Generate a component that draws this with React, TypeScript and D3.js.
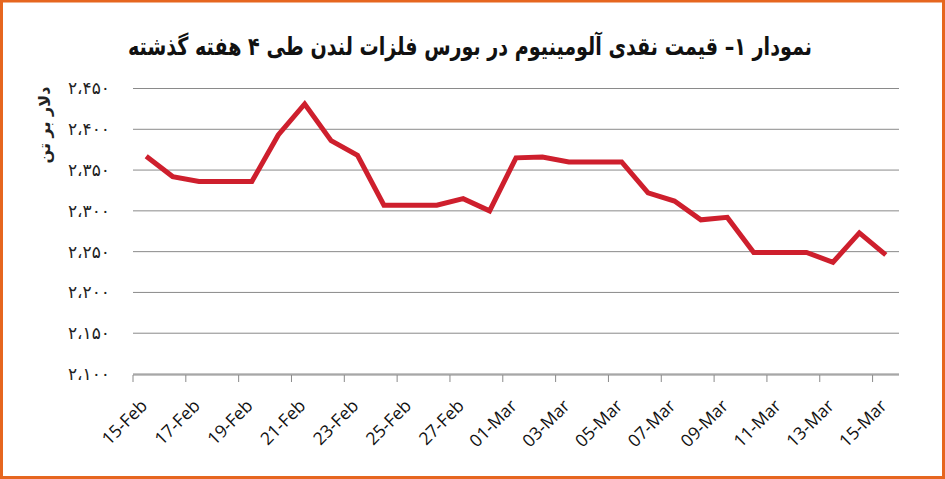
import React from "react";
import * as d3 from "d3";

// LME aluminium cash price, Feb 15 - Mar 15 (USD / tonne)
const days: string[] = [
  "15-Feb", "16-Feb", "17-Feb", "18-Feb", "19-Feb", "20-Feb", "21-Feb",
  "22-Feb", "23-Feb", "24-Feb", "25-Feb", "26-Feb", "27-Feb", "28-Feb",
  "01-Mar", "02-Mar", "03-Mar", "04-Mar", "05-Mar", "06-Mar", "07-Mar",
  "08-Mar", "09-Mar", "10-Mar", "11-Mar", "12-Mar", "13-Mar", "14-Mar",
  "15-Mar",
];

const prices: number[] = [
  2367, 2342, 2336, 2336, 2336, 2393, 2431, 2386, 2368, 2307,
  2307, 2307, 2315, 2300, 2365, 2366, 2360, 2360, 2360, 2322,
  2312, 2289, 2292, 2249, 2249, 2249, 2237, 2273, 2246,
];

const yTicks: number[] = [2100, 2150, 2200, 2250, 2300, 2350, 2400, 2450];

const title = "نمودار ۱– قیمت نقدی آلومینیوم در بورس فلزات لندن طی ۴ هفته گذشته";
const yTitle = "دلار بر تن";

const W = 945;
const H = 479;
const margin = { top: 88.5, right: 46, bottom: 105, left: 133 };

const persianDigits = "۰۱۲۳۴۵۶۷۸۹";
const toPersian = (v: number) =>
  d3
    .format(",")(v)
    .replace(/\d/g, (c) => persianDigits[+c])
    .replace(/,/g, "،");

export default function App() {
  const x = d3
    .scaleBand<string>()
    .domain(days)
    .range([margin.left, W - margin.right])
    .padding(0);

  const y = d3
    .scaleLinear()
    .domain([2100, 2450])
    .range([H - margin.bottom, margin.top]);

  const line = d3
    .line<number>()
    .x((_, i) => x(days[i])! + x.bandwidth() / 2)
    .y((d) => y(d));

  const x0 = margin.left;
  const x1 = W - margin.right;
  const base = y(2100);

  return (
    <>
      <style>{"body{margin:0}"}</style>
      <svg width={W} height={H} style={{ display: "block", background: "#fff" }}>
        <rect x={1.5} y={1} width={W - 3} height={H - 2.5} fill="#fff" stroke="#E6661F" strokeWidth={3} />

        <text
          x={470}
          y={55}
          textAnchor="middle"
          direction="rtl"
          fontFamily="DejaVu Sans"
          fontWeight="bold"
          fontSize={25}
          textLength={684}
          lengthAdjust="spacingAndGlyphs"
          fill="#111"
        >
          {title}
        </text>

        {/* gridlines */}
        {yTicks.map((t) => (
          <g key={t}>
            <line x1={x0} x2={x1} y1={y(t)} y2={y(t)} stroke="#8a8a8a" strokeWidth={1} />
            <text
              x={110}
              y={y(t)}
              dy="0.35em"
              textAnchor="end"
              direction="ltr"
              fontFamily="DejaVu Sans"
              fontSize={17}
              fill="#222"
            >
              {toPersian(t)}
            </text>
          </g>
        ))}

        <text
          transform={`translate(50,125) rotate(-90)`}
          textAnchor="middle"
          direction="rtl"
          fontFamily="DejaVu Sans"
          fontWeight="bold"
          fontSize={16}
          fill="#222"
        >
          {yTitle}
        </text>

        {/* x axis */}
        <line x1={x0} x2={x1} y1={base + 1} y2={base + 1} stroke="#8a8a8a" />
        {days.map((d, i) =>
          i % 2 === 0 ? (
            <g key={d}>
              <line x1={x(d)!} x2={x(d)!} y1={base + 1} y2={base + 8} stroke="#8a8a8a" />
              <text
                transform={`translate(${x(d)! + x.bandwidth() / 2 + 2},${base + 33}) rotate(-45)`}
                textAnchor="end"
                fontFamily="Open Sans"
                fontSize={17.5}
                fill="#111"
              >
                {d}
              </text>
            </g>
          ) : null
        )}

        <path d={line(prices)!} fill="none" stroke="#CE1F2D" strokeWidth={5} strokeLinejoin="miter" />
      </svg>
    </>
  );
}
